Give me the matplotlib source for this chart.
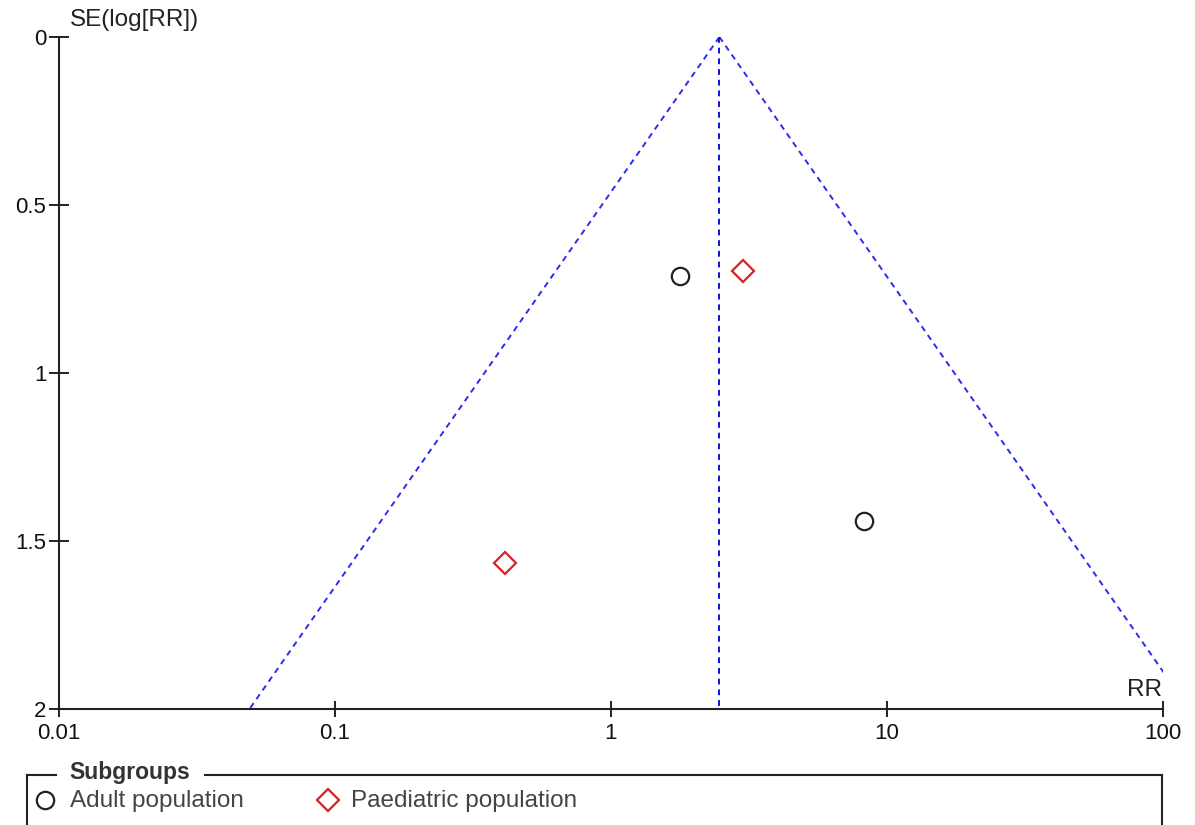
import numpy as np
import matplotlib.pyplot as plt

# study estimates (risk ratio, standard error of log RR)
adult_rr = [1.78, 8.28]
adult_se = [0.711, 1.44]
paed_rr = [3.01, 0.413]
paed_se = [0.696, 1.566]

# pooled estimate used for the funnel
pooled_rr = 2.47

x_ticks = [0.01, 0.1, 1, 10, 100]
x_tick_labels = ["0.01", "0.1", "1", "10", "100"]
y_ticks = [0, 0.5, 1, 1.5, 2]
y_tick_labels = ["0", "0.5", "1", "1.5", "2"]

plt.rcParams["font.family"] = ["Liberation Sans", "DejaVu Sans"]

W, H = 1195, 825
fig = plt.figure(figsize=(W / 100, H / 100), dpi=100)

ax = fig.add_axes([59 / W, (H - 709) / H, (1163 - 59) / W, (709 - 37) / H])
ax.set_xscale("log")
ax.set_xlim(0.01, 100)
ax.set_ylim(2, 0)

# funnel: pseudo 95% limits around the pooled estimate
se = np.linspace(0, 2, 200)
dash = (0, (3, 2.5))
ax.plot(pooled_rr * np.exp(-1.96 * se), se, ls=dash, color="#2b2bf0", lw=1.4)
ax.plot(pooled_rr * np.exp(1.96 * se), se, ls=dash, color="#2b2bf0", lw=1.4)
ax.plot([pooled_rr, pooled_rr], [0, 2], ls=dash, color="#1010e0", lw=1.4)

ax.plot(adult_rr, adult_se, "o", ms=12.5, mfc="none", mec="#222222", mew=1.6, ls="none")
ax.plot(paed_rr, paed_se, "D", ms=11, mfc="none", mec="#d42424", mew=1.6, ls="none")

ax.set_xticks(x_ticks)
ax.set_xticklabels(x_tick_labels)
ax.xaxis.set_minor_locator(plt.NullLocator())
ax.set_yticks(y_ticks)
ax.set_yticklabels(y_tick_labels)
ax.tick_params(axis="x", direction="inout", length=11.5, width=1.3, labelsize=16,
               colors="#111111", pad=4)
ax.tick_params(axis="y", direction="inout", length=14, width=1.3, labelsize=16,
               colors="#111111", pad=2)

for s in ["top", "right"]:
    ax.spines[s].set_visible(False)
for s in ["left", "bottom"]:
    ax.spines[s].set_linewidth(1.5)
    ax.spines[s].set_color("#222222")

fig.text(70 / W, 1 - 20 / H, "SE(log[RR])", fontsize=17.5, color="#222222", va="center", ha="left")
fig.text(1162 / W, 1 - 690 / H, "RR", fontsize=17.5, color="#222222", va="center", ha="right")

# legend box with the title set into the top border
lg = fig.add_axes([0, 0, 1, 1])
lg.set_xlim(0, W)
lg.set_ylim(H, 0)
lg.axis("off")
lg.patch.set_visible(False)
box_col = "#222222"
lg.plot([27, 56], [775, 775], color=box_col, lw=1.5)
lg.plot([205, 1162], [775, 775], color=box_col, lw=1.5)
lg.plot([27, 27], [775, H + 5], color=box_col, lw=1.5, clip_on=False)
lg.plot([1162, 1162], [775, H + 5], color=box_col, lw=1.5, clip_on=False)
lg.text(69, 773, "Subgroups", fontsize=16.5, fontweight="bold", color="#333333", va="center", ha="left")

lg.plot([45], [800], "o", ms=12.5, mfc="none", mec="#222222", mew=1.6)
lg.text(70, 801, "Adult population", fontsize=17.5, color="#444444", va="center", ha="left")
lg.plot([328], [800], "D", ms=11, mfc="none", mec="#d42424", mew=1.6)
lg.text(351, 801, "Paediatric population", fontsize=17.5, color="#444444", va="center", ha="left")

fig.savefig("out.png", dpi=100)
